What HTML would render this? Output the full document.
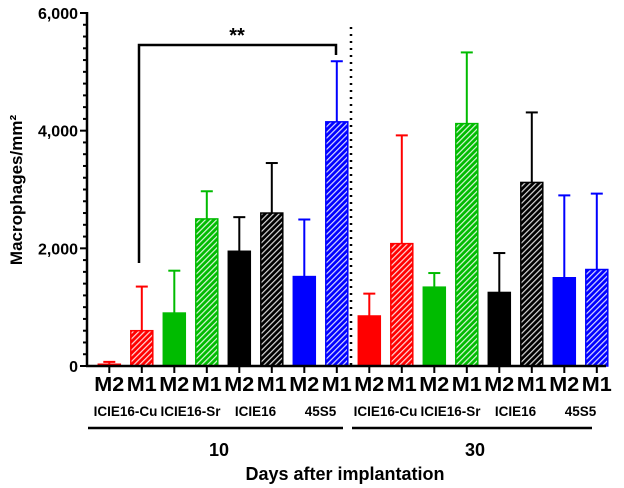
<!DOCTYPE html>
<html><head><meta charset="utf-8"><style>
body{margin:0;background:#fff}
svg{display:block;font-family:"Liberation Sans",Arial,sans-serif;font-weight:bold}
</style></head><body>
<svg id="c" width="624" height="488">
<defs>
<pattern id="h-red" width="4" height="4" patternUnits="userSpaceOnUse" patternTransform="rotate(45)"><rect width="4" height="4" fill="#ff0000"/><rect width="1.2" height="4" fill="#fff" opacity="0.85"/></pattern>
<pattern id="h-green" width="4" height="4" patternUnits="userSpaceOnUse" patternTransform="rotate(45)"><rect width="4" height="4" fill="#00bb00"/><rect width="1.2" height="4" fill="#fff" opacity="0.85"/></pattern>
<pattern id="h-black" width="4" height="4" patternUnits="userSpaceOnUse" patternTransform="rotate(45)"><rect width="4" height="4" fill="#000"/><rect width="1.2" height="4" fill="#fff" opacity="0.85"/></pattern>
<pattern id="h-blue" width="4" height="4" patternUnits="userSpaceOnUse" patternTransform="rotate(45)"><rect width="4" height="4" fill="#0000ff"/><rect width="1.2" height="4" fill="#fff" opacity="0.85"/></pattern>
</defs>
<g id="g"></g>
</svg>
<script>
const categories=["M2","M1","M2","M1","M2","M1","M2","M1","M2","M1","M2","M1","M2","M1","M2","M1"];
const groups=["ICIE16-Cu","ICIE16-Sr","ICIE16","45S5","ICIE16-Cu","ICIE16-Sr","ICIE16","45S5"];
const means=[30,600,900,2500,1950,2600,1520,4150,850,2080,1340,4120,1250,3120,1500,1640];
const errTops=[70,1350,1620,2970,2530,3450,2490,5180,1230,3920,1580,5330,1920,4310,2900,2930];
const yTicks=[0,2000,4000,6000];
const yTickLabels=["0","2,000","4,000","6,000"];
const colors=["#ff0000","#00bb00","#000000","#0000ff"];
const hatch=["h-red","h-green","h-black","h-blue"];
const NS="http://www.w3.org/2000/svg";
const g=document.getElementById('g');
const y0=366,y1=13,yMax=6000;
const y=v=>y0-(v/yMax)*(y0-y1);
const x=i=>109.3+i*32.5;
function el(t,a,txt){const e=document.createElementNS(NS,t);for(const k in a)e.setAttribute(k,a[k]);if(txt!==undefined)e.textContent=txt;g.appendChild(e);return e;}
means.forEach((v,i)=>{
 const ci=Math.floor(i/2)%4, m1=i%2===1, bw=22;
 const col=colors[ci];
 const et=el('line',{x1:x(i),x2:x(i),y1:y(v),y2:y(errTops[i]),stroke:col,'stroke-width':2});
 
 
 const cap=el('line',{x1:x(i)-6,x2:x(i)+6,y1:y(errTops[i]),y2:y(errTops[i]),stroke:col,'stroke-width':2});
 
 
 const r=el('rect',{x:x(i)-bw/2,y:y(v),width:bw,height:y0-y(v),fill:m1?'url(#'+hatch[ci]+')':col,stroke:col,'stroke-width':1.5});
 
 
 const t=el('line',{x1:x(i),x2:x(i),y1:y0,y2:y0+7,stroke:'#000','stroke-width':2});
 
 
 const lb=el('text',{x:x(i),y:391,'text-anchor':'middle','font-size':20,'textLength':30,'lengthAdjust':'spacingAndGlyphs'},categories[i]);
 
 
});
groups.forEach((n,k)=>{
 const t=el('text',{x:(x(2*k)+x(2*k+1))/2,y:416,'text-anchor':'middle','font-size':13.5},n);
 
 
});
const ya=el('line',{x1:87,x2:87,y1:y1-1,y2:y0+1,stroke:'#000','stroke-width':2.5});


const xa=el('line',{x1:86,x2:606,y1:y0,y2:y0,stroke:'#000','stroke-width':2.5});


for(let v=0;v<=yMax;v+=200){
 const mt=el('line',{x1:v%2000===0?80:83,x2:87,y1:y(v),y2:y(v),stroke:'#000','stroke-width':2});
 
 
}
yTicks.forEach((v,i)=>{
 const t=el('text',{x:78,y:y(v)+6,'text-anchor':'end','font-size':16},yTickLabels[i]);
 
 
});
const yt=el('text',{transform:'translate(22,190) rotate(-90)','text-anchor':'middle','font-size':17},'Macrophages/mm²');


const dl=el('line',{x1:351,x2:351,y1:27,y2:y0,stroke:'#000','stroke-width':2.5,'stroke-dasharray':'2 5'});


const br=el('polyline',{points:`139,263 139,45 336,45 336,55`,fill:'none',stroke:'#000','stroke-width':2.5});


const st=el('text',{x:237,y:42,'text-anchor':'middle','font-size':20},'**');


const l1=el('line',{x1:88,x2:343,y1:428,y2:428,stroke:'#000','stroke-width':2.5});


const l2=el('line',{x1:352,x2:592,y1:428,y2:428,stroke:'#000','stroke-width':2.5});


const d1=el('text',{x:219,y:456,'text-anchor':'middle','font-size':18},'10');


const d2=el('text',{x:475,y:456,'text-anchor':'middle','font-size':18},'30');


const xt=el('text',{x:345,y:480,'text-anchor':'middle','font-size':18},'Days after implantation');


</script>
</body></html>
